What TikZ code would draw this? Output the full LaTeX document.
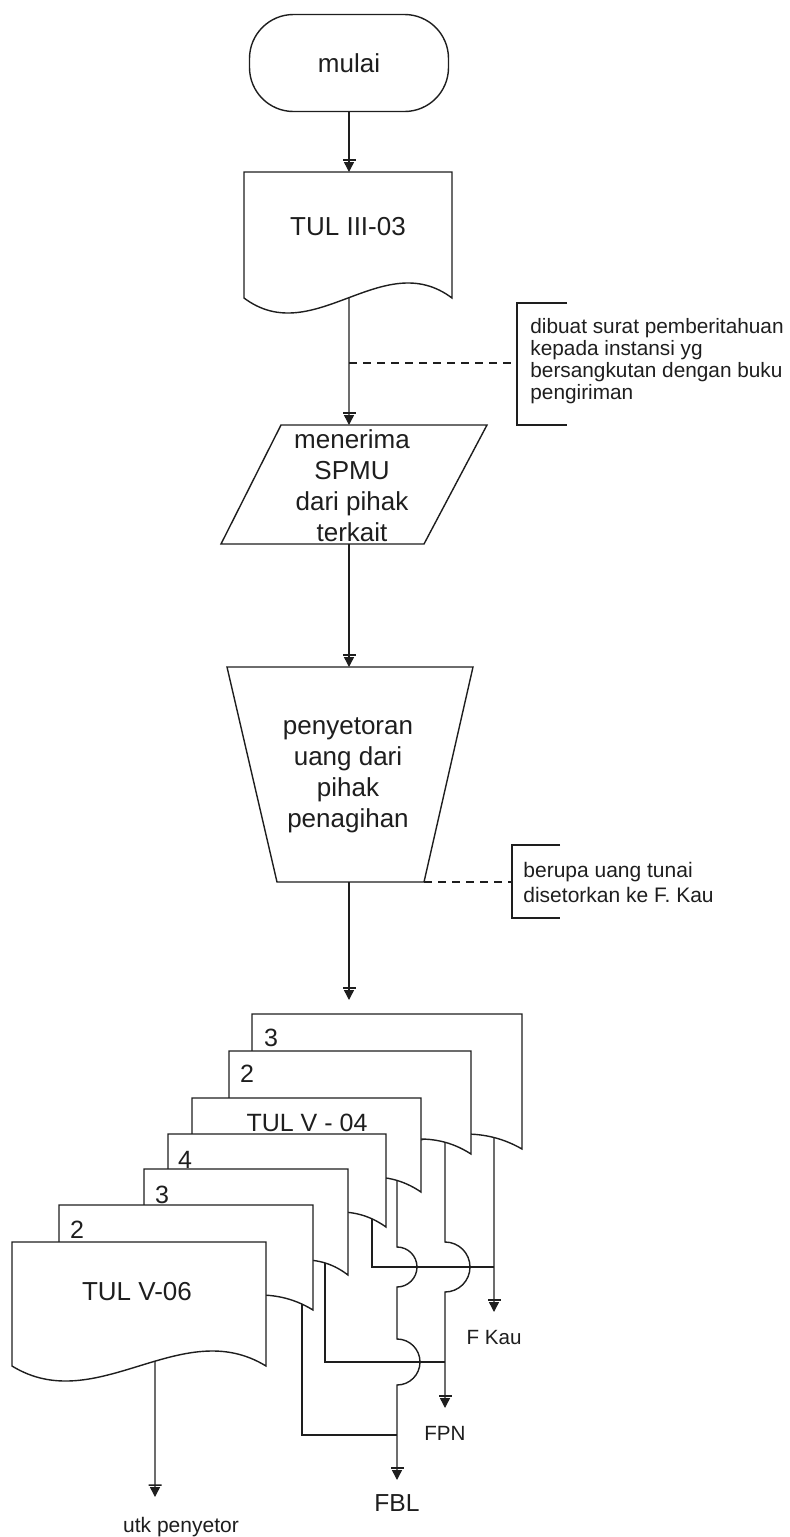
\documentclass[tikz,border=0pt]{standalone}
\usepackage{fontspec}
\setmainfont{Liberation Sans}
\usetikzlibrary{arrows.meta}
\definecolor{tulInk}{HTML}{1E1E1E}
\tikzset{
  tul line/.style={draw=tulInk, line width=0.7pt},
  tul shape/.style={tul line, fill=white},
  tul flow/.style={tul line, -{Bar[width=6.5pt,sep=0.6pt]Triangle[width=5pt,length=5pt]}},
  tul note link/.style={draw=tulInk, line width=0.7pt, dash pattern=on 4pt off 3pt},
  tul term/.style={tul shape, rounded corners=22pt, minimum width=99.5pt, minimum height=48.5pt,
    font=\fontsize{13pt}{15.5pt}\selectfont, text=tulInk},
  tul text/.style={font=\fontsize{13pt}{15.5pt}\selectfont, text=tulInk, inner sep=0pt},
  tul copy/.style={font=\fontsize{12.5pt}{15pt}\selectfont, text=tulInk, inner sep=0pt},
  tul note/.style={font=\fontsize{10.4pt}{10.9pt}\selectfont, text=tulInk, inner sep=0pt, align=left},
  tul out/.style={font=\fontsize{10.3pt}{12pt}\selectfont, text=tulInk, inner sep=0pt},
}
% document symbol: name, left, top, right, bottom, position of the outgoing point on the wave
\newcommand{\tuldoc}[6]{%
  \draw[tul shape] (#2,#3) -- (#4,#3) -- (#4,#5)
    .. controls ({#4-(#4-#2)/3},{#5-52}) and ({#2+(#4-#2)/3},{#5+52}) .. (#2,#5)
    coordinate[pos=#6] (#1-out) -- cycle;}

\begin{document}
\begin{tikzpicture}[x=0.5pt,y=-0.5pt]
  \useasboundingbox (0,0) rectangle (790,1537);

  \node[tul term] (start) at (349,63) {mulai};
  \coordinate (tul3-in) at (349,172);
  \draw[tul flow] (start) -- (tul3-in);
  \tuldoc{tul3}{244}{172}{452}{298}{0.4952}
  \node[tul text] (tul3) at (348,227) {TUL III-03};

  \draw[tul shape] (281,425) -- (487,425) -- (424,544) -- (221,544) -- cycle;
  \coordinate (spmu-in) at (349,425);
  \coordinate (spmu-out) at (349,544);
  \node[tul text, align=center] (spmu) at (352,486) {menerima\\SPMU\\dari pihak\\terkait};
  \draw[tul flow] (tul3-out) -- (spmu-in);

  \coordinate (note1-from) at (349,363);
  \coordinate (note1-in) at (517,363);
  \draw[tul note link] (note1-from) -- (note1-in);
  \draw[tul line] (567,303) -- (517,303) -- (517,425) -- (567,425);
  \node[tul note, anchor=west] (note1) at (530,361)
    {dibuat surat pemberitahuan\\kepada instansi yg\\bersangkutan dengan buku\\pengiriman};

  \draw[tul shape] (227,667) -- (473,667) -- (424,882) -- (277,882) -- cycle;
  \coordinate (setor-in) at (349,667);
  \coordinate (setor-out) at (349,882);
  \coordinate (setor-se) at (424,882);
  \node[tul text, align=center] (setor) at (348,775) {penyetoran\\uang dari\\pihak\\penagihan};
  \draw[tul flow] (spmu-out) -- (setor-in);

  \coordinate (note2-in) at (512,882);
  \draw[tul note link] (setor-se) -- (note2-in);
  \draw[tul line] (560,845) -- (512,845) -- (512,918) -- (560,918);
  \node[tul note, anchor=west, font=\fontsize{10.5pt}{12.5pt}\selectfont] (note2) at (523,882)
    {berupa uang tunai\\disetorkan ke F. Kau};

  \coordinate (stack-in) at (349,1000);
  \draw[tul flow] (setor-out) -- (stack-in);

  \tuldoc{v04c}{252}{1014}{522}{1149}{0.1037}
  \tuldoc{v04b}{229}{1051}{471}{1154}{0.1074}
  \tuldoc{v04a}{192}{1098}{421}{1192}{0.1048}
  \tuldoc{v06d}{168}{1134}{386}{1227}{0.0642}
  \tuldoc{v06c}{144}{1169}{348}{1275}{0.1127}
  \tuldoc{v06b}{59}{1205}{313}{1310}{0.0433}
  \tuldoc{v06a}{12}{1242}{266}{1366}{0.4370}
  \node[tul copy] (v04c-no) at (271,1038) {3};
  \node[tul copy] (v04b-no) at (247,1074) {2};
  \node[tul copy] (v04a) at (307,1123) {TUL V - 04};
  \node[tul copy] (v06d-no) at (185,1160) {4};
  \node[tul copy] (v06c-no) at (162,1195) {3};
  \node[tul copy] (v06b-no) at (77,1230) {2};
  \node[tul text] (v06a) at (137,1292) {TUL V-06};

  \coordinate (fkau-join) at (494,1267);
  \coordinate (fpn-join) at (445,1362);
  \coordinate (fbl-join) at (397,1435);
  \coordinate (fkau-end) at (494,1312);
  \coordinate (fpn-end) at (445,1408);
  \coordinate (fbl-end) at (397,1480);
  \coordinate (utk-end) at (155,1497);
  \draw[tul line] (v06d-out) |- (fkau-join);
  \draw[tul line] (v06c-out) |- (fpn-join);
  \draw[tul line] (v06b-out) |- (fbl-join);
  \draw[tul flow] (v04c-out) -- (fkau-end);
  \draw[tul flow] (v04b-out) -- (445,1242) arc[start angle=-90, end angle=90, radius=25] -- (fpn-end);
  \draw[tul flow] (v04a-out) -- (397,1247) arc[start angle=-90, end angle=90, radius=20]
    -- (397,1339) arc[start angle=-90, end angle=90, radius=23] -- (fbl-end);
  \draw[tul flow] (v06a-out) -- (utk-end);

  \node[tul out] (fkau) at (494,1337) {F Kau};
  \node[tul out] (fpn) at (445,1433) {FPN};
  \node[tul out, font=\fontsize{12.3pt}{14pt}\selectfont] (fbl) at (397,1503) {FBL};
  \node[tul out, font=\fontsize{10.5pt}{12pt}\selectfont] (utk) at (181,1527) {utk penyetor};
\end{tikzpicture}
\end{document}
